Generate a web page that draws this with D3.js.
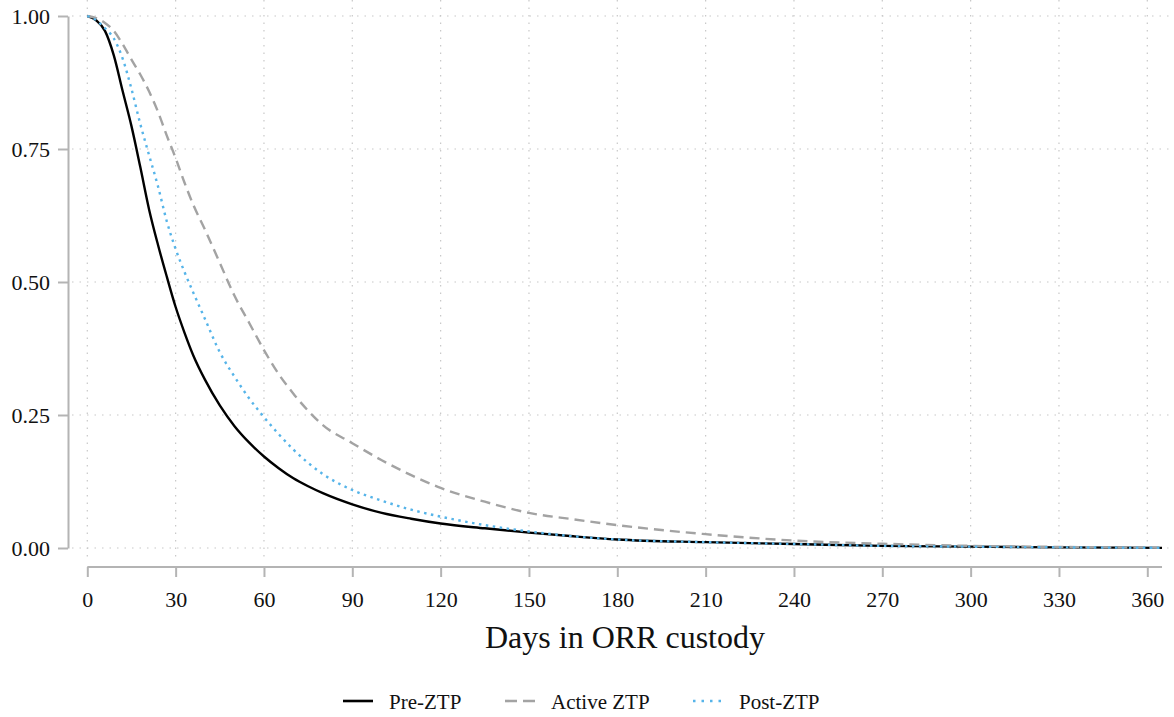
<!DOCTYPE html>
<html>
<head>
<meta charset="utf-8">
<style>
  body { margin: 0; background: #fff; }
  .grid line { stroke: #c8c8c8; stroke-width: 1.2px; stroke-dasharray: 1.5,6; }
  .axis path, .axis line { stroke: #b4b4b4; stroke-width: 2px; }
  .curve { fill: none; stroke-width: 2.4px; }
</style>
</head>
<body>
<svg id="chart" width="1174" height="717"></svg>
<script src="https://cdn.jsdelivr.net/npm/d3@7"></script>
<script>
// survival estimates
var days = [0, 3, 6, 9, 12, 15, 18, 21, 24, 27, 30, 33, 36, 40, 45, 50, 55, 60, 65, 70, 75, 80,
            90, 100, 110, 120, 135, 150, 165, 180, 210, 240, 270, 300, 330, 365];
var preZTP = [1.0, 0.992, 0.972, 0.926, 0.859, 0.793, 0.716, 0.636, 0.57, 0.51, 0.453, 0.405, 0.362,
              0.316, 0.268, 0.229, 0.198, 0.172, 0.15, 0.131, 0.116, 0.103,
              0.082, 0.066, 0.055, 0.046, 0.037, 0.029, 0.022, 0.016, 0.011, 0.0075, 0.004, 0.0025, 0.0012, 0.0003];
var activeZTP = [1.0, 0.996, 0.987, 0.972, 0.947, 0.918, 0.89, 0.858, 0.82, 0.775, 0.733, 0.687, 0.645,
                 0.598, 0.536, 0.474, 0.423, 0.372, 0.327, 0.29, 0.258, 0.231,
                 0.197, 0.165, 0.137, 0.113, 0.087, 0.066, 0.054, 0.043, 0.026, 0.014, 0.008, 0.004, 0.002, 0.0005];
var postZTP = [1.0, 0.992, 0.977, 0.958, 0.92, 0.863, 0.797, 0.738, 0.68, 0.614, 0.562, 0.519, 0.48,
               0.43, 0.368, 0.322, 0.281, 0.246, 0.214, 0.185, 0.16, 0.139,
               0.109, 0.089, 0.072, 0.059, 0.043, 0.031, 0.022, 0.016, 0.011, 0.0075, 0.004, 0.0025, 0.0012, 0.0003];
var xTicks = [0, 30, 60, 90, 120, 150, 180, 210, 240, 270, 300, 330, 360];
var yTicks = [0, 0.25, 0.5, 0.75, 1];
var seriesNames = ["Pre-ZTP", "Active ZTP", "Post-ZTP"];

var serif = "'Liberation Serif', 'Times New Roman', 'DejaVu Serif', serif";

var series = [
  { name: seriesNames[0], values: preZTP, color: "#000000", dash: null, legDash: null },
  { name: seriesNames[1], values: activeZTP, color: "#a3a3a3", dash: "10,6", legDash: "12,6" },
  { name: seriesNames[2], values: postZTP, color: "#56b4e9", dash: "2.5,4.5", legDash: "2.5,6" }
];

var svg = d3.select("#chart");

var x = d3.scaleLinear().domain([0, 360]).range([87.3, 1147.3]);
var y = d3.scaleLinear().domain([0, 1]).range([548, 16]);

// background grid
var grid = svg.append("g").attr("class", "grid");
grid.selectAll(".gx").data(xTicks).enter().append("line")
  .attr("x1", function (d) { return x(d); }).attr("x2", function (d) { return x(d); })
  .attr("y1", 0).attr("y2", 560);
grid.selectAll(".gy").data(yTicks).enter().append("line")
  .attr("x1", 72).attr("x2", 1174)
  .attr("y1", function (d) { return y(d); }).attr("y2", function (d) { return y(d); });

// axes (range frame style)
var xAxis = svg.append("g")
  .attr("class", "axis")
  .attr("transform", "translate(0,567)")
  .call(d3.axisBottom(x).tickValues(xTicks).tickSize(10).tickSizeOuter(0).tickPadding(14));
xAxis.select(".domain").attr("d", "M" + x(0) + ",0H" + x(365));
xAxis.attr("font-family", null).attr("font-size", null);
xAxis.selectAll("text").style("font-family", serif).style("font-size", "22px").style("fill", "#111");

var yAxis = svg.append("g")
  .attr("class", "axis")
  .attr("transform", "translate(68,0)")
  .call(d3.axisLeft(y).tickValues(yTicks).tickFormat(d3.format(".2f")).tickSize(10).tickSizeOuter(0).tickPadding(8));
yAxis.attr("font-family", null).attr("font-size", null);
yAxis.selectAll("text").style("font-family", serif).style("font-size", "22px").style("fill", "#111");

svg.append("text")
  .attr("x", 625).attr("y", 648)
  .attr("text-anchor", "middle")
  .style("font-family", serif)
  .style("font-size", "32px")
  .style("fill", "#111")
  .text("Days in ORR custody");

// curves
var line = d3.line()
  .curve(d3.curveMonotoneX)
  .x(function (d, i) { return x(days[i]); })
  .y(function (d) { return y(d); });

svg.selectAll(".curve").data(series).enter().append("path")
  .attr("class", "curve")
  .attr("d", function (d) { return line(d.values); })
  .style("stroke", function (d) { return d.color; })
  .style("stroke-dasharray", function (d) { return d.dash; });

// legend
var legX = [343, 505, 693];
var leg = svg.selectAll(".leg").data(series).enter().append("g")
  .attr("transform", function (d, i) { return "translate(" + legX[i] + ",701)"; });
leg.append("line")
  .attr("x1", 0).attr("x2", 30).attr("y1", 0).attr("y2", 0)
  .style("stroke", function (d) { return d.color; })
  .style("stroke-width", 2.6)
  .style("stroke-dasharray", function (d) { return d.legDash; });
leg.append("text")
  .attr("x", 46).attr("y", 8)
  .style("font-family", serif)
  .style("font-size", "21px")
  .style("fill", "#111")
  .text(function (d) { return d.name; });
</script>
</body>
</html>
